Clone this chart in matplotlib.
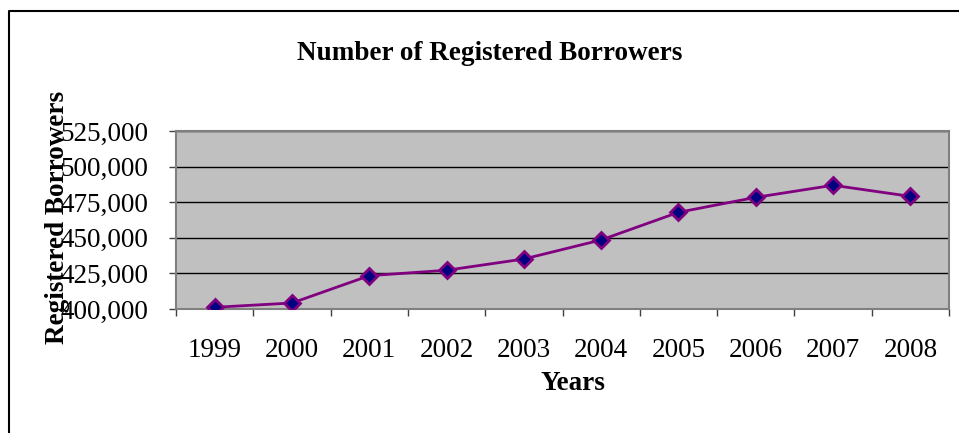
import matplotlib
matplotlib.use("Agg")
import matplotlib.pyplot as plt
from matplotlib.lines import Line2D

years = ["1999", "2000", "2001", "2002", "2003", "2004", "2005", "2006", "2007", "2008"]
borrowers = [401200, 404200, 423400, 427200, 435100, 448500, 467900, 478400, 486900, 479100]
y_ticks = [400000, 425000, 450000, 475000, 500000, 525000]

plt.rcParams['font.family'] = ['Liberation Serif', 'DejaVu Serif']

W, H = 959, 433
fig = plt.figure(figsize=(W / 100, H / 100), dpi=100)

# plot area in pixel units -> figure fractions
left, right, top, bottom = 176, 949, 131, 309
ax = fig.add_axes([left / W, 1 - bottom / H, (right - left) / W, (bottom - top) / H])
ax.set_facecolor('#C0C0C0')
for side in ax.spines.values():
    side.set_color('#808080')
    side.set_linewidth(1.5)

xs = [i + 0.5 for i in range(len(years))]
ax.plot(xs, borrowers, color='#800080', linewidth=2, marker='D', markersize=8,
        markerfacecolor='#000080', markeredgecolor='#800080', markeredgewidth=2,
        zorder=3)

ax.set_xlim(0, len(years))
ax.set_ylim(y_ticks[0], y_ticks[-1])
ax.set_yticks(y_ticks)
ax.set_yticklabels([f"{v:,}" for v in y_ticks])
ax.yaxis.grid(True, color='black', linewidth=1)
ax.set_axisbelow(True)

# category boundaries as tick marks, year labels centred between them
ax.set_xticks(range(len(years) + 1))
ax.set_xticklabels([])
ax.set_xticks(xs, minor=True)
ax.set_xticklabels(years, minor=True)
ax.tick_params(axis='x', which='major', length=5, width=1, color='#404040', direction='out')
ax.tick_params(axis='x', which='minor', length=0, pad=21, labelsize=19.5)
ax.tick_params(axis='y', length=5, width=1, color='#404040', direction='out', pad=15, labelsize=19.5)

fig.text(490 / W, 1 - 53 / H, "Number of Registered Borrowers", ha='center', va='center',
         fontsize=19.5, fontweight='bold')
fig.text(573 / W, 1 - 383 / H, "Years", ha='center', va='center',
         fontsize=19.5, fontweight='bold')
fig.text(57 / W, 1 - 217 / H, "Registered Borrowers", ha='center', va='center',
         rotation=90, fontsize=19.5, fontweight='bold')

# chart frame, only its top and left edges fall inside the image
fx, fy = 8.5 / W, 1 - 10.5 / H
fig.add_artist(Line2D([fx, fx, 1.0], [0.0, fy, fy], color='black', linewidth=1.5,
                      transform=fig.transFigure))

fig.savefig("out.png", dpi=100)
